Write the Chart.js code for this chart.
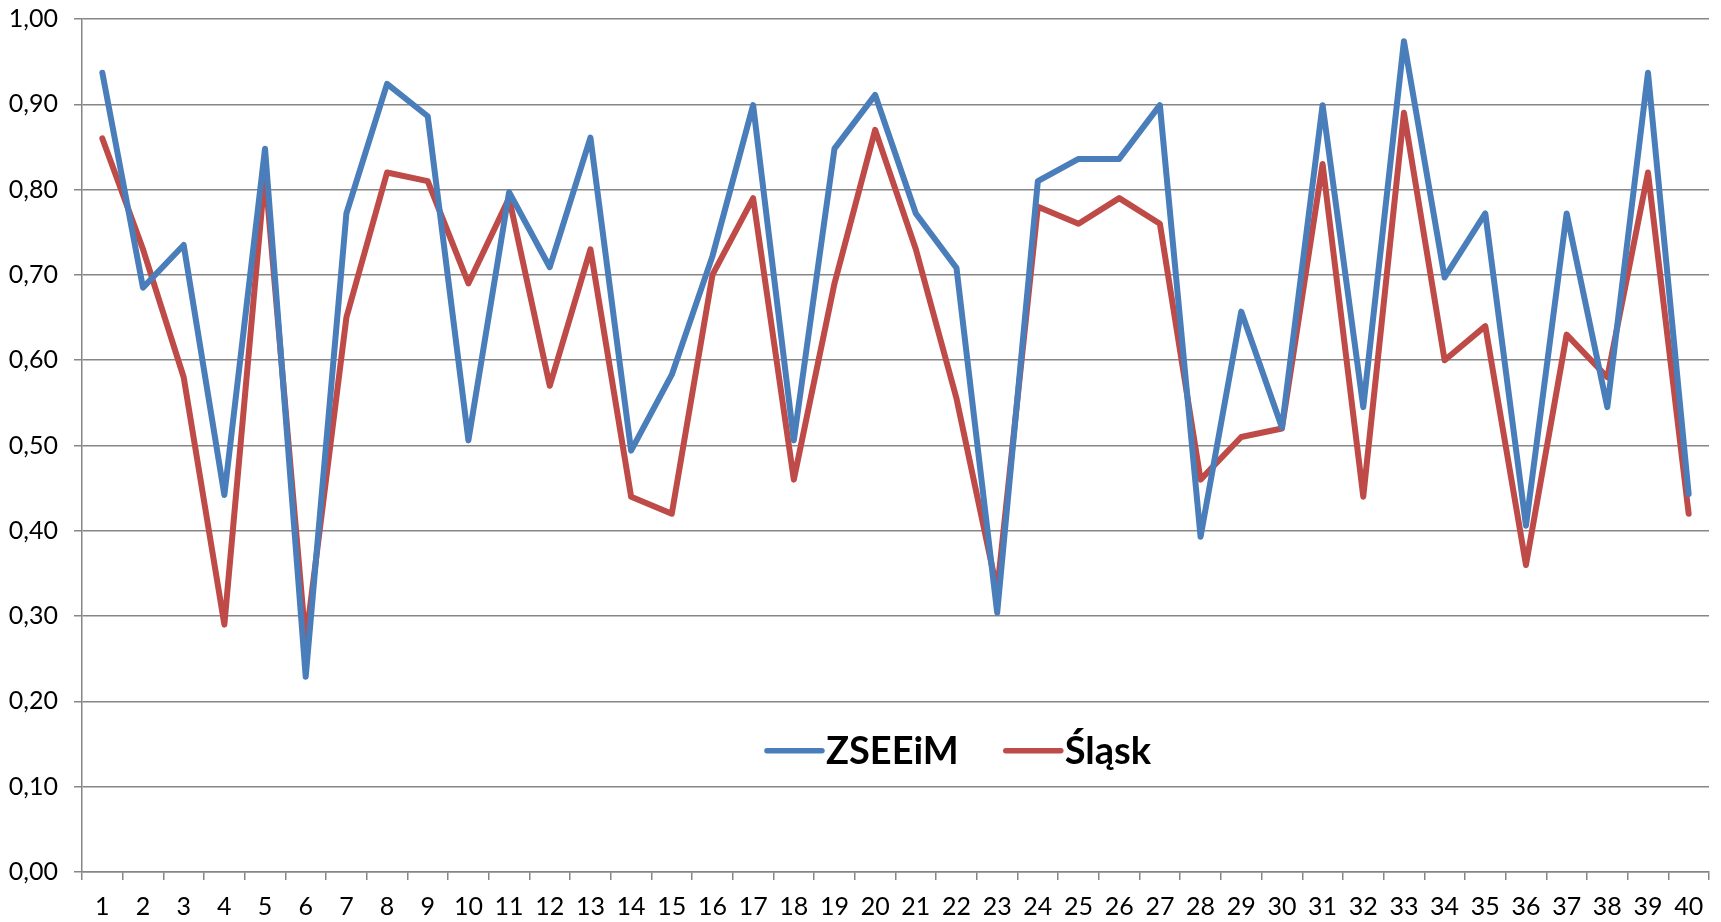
<!DOCTYPE html>
<html>
<head>
<meta charset="utf-8">
<style>
  html, body { margin: 0; padding: 0; background: #fff; }
  #wrap { width: 1721px; height: 922px; }
</style>
<script src="https://cdn.jsdelivr.net/npm/chart.js@4.4.0/dist/chart.umd.min.js"></script>
</head>
<body>
<div id="wrap"><canvas id="chart" width="1721" height="922"></canvas></div>
<script>
// ---- Data ----
const categories = Array.from({length: 40}, (_, i) => String(i + 1));
const zseeim = [0.937, 0.685, 0.735, 0.442, 0.848, 0.229, 0.772, 0.924, 0.886, 0.506,
                0.797, 0.709, 0.861, 0.494, 0.583, 0.722, 0.899, 0.506, 0.848, 0.911,
                0.772, 0.708, 0.304, 0.810, 0.836, 0.836, 0.899, 0.393, 0.657, 0.521,
                0.899, 0.545, 0.974, 0.697, 0.772, 0.406, 0.772, 0.545, 0.937, 0.443];
const slask  = [0.86, 0.73, 0.58, 0.29, 0.82, 0.27, 0.65, 0.82, 0.81, 0.69,
                0.79, 0.57, 0.73, 0.44, 0.42, 0.70, 0.79, 0.46, 0.69, 0.87,
                0.73, 0.555, 0.33, 0.78, 0.76, 0.79, 0.76, 0.46, 0.51, 0.52,
                0.83, 0.44, 0.89, 0.60, 0.64, 0.36, 0.63, 0.58, 0.82, 0.42];
const seriesNames = ['ZSEEiM', 'Śląsk'];
const seriesColors = ['#4A7EBB', '#BE4B48'];

// ---- Helpers ----
const GRID = '#868686';
const FONT = 'Lato, "Open Sans", sans-serif';
const fmtComma = (v) => Number(v).toFixed(2).replace('.', ',');

// legend drawn inside the plot, like the Excel original
const insideLegend = {
  id: 'insideLegend',
  afterDraw(chart) {
    const { ctx, chartArea: a } = chart;
    const y = a.bottom - (a.bottom - a.top) * 0.142;
    let x = a.left + (a.right - a.left) * 0.421;
    ctx.save();
    ctx.font = 'bold 38px ' + FONT;
    ctx.textBaseline = 'middle';
    seriesNames.forEach((name, i) => {
      ctx.strokeStyle = seriesColors[i];
      ctx.lineWidth = 5.5;
      ctx.lineCap = 'round';
      ctx.beginPath();
      ctx.moveTo(x, y);
      ctx.lineTo(x + 55, y);
      ctx.stroke();
      x += 59;
      ctx.fillStyle = '#000';
      ctx.fillText(name, x, y + 1);
      x += ctx.measureText(name).width + 47;
    });
    ctx.restore();
  }
};

new Chart(document.getElementById('chart'), {
  type: 'line',
  data: {
    labels: categories,
    datasets: [zseeim, slask].map((d, i) => ({
      label: seriesNames[i],
      data: d,
      borderColor: seriesColors[i],
      backgroundColor: seriesColors[i],
      borderWidth: 6,
      borderJoinStyle: 'round',
      borderCapStyle: 'round',
      pointRadius: 0,
      tension: 0
    }))
  },
  options: {
    responsive: false,
    animation: false,
    devicePixelRatio: 1,
    layout: { padding: { top: 19, right: 12, left: 0, bottom: 0 } },
    plugins: {
      legend: { display: false },
      tooltip: { enabled: false }
    },
    scales: {
      x: {
        offset: true,
        grid: { offset: true, drawOnChartArea: false, color: GRID, lineWidth: 1.5, tickLength: 8 },
        border: { color: GRID, width: 1.5 },
        ticks: { color: '#000', font: { family: FONT, size: 25 }, padding: 12, maxRotation: 0, autoSkip: false },
        afterFit: (s) => { s.height = 50; s.paddingLeft = 0; s.paddingRight = 0; }
      },
      y: {
        min: 0,
        max: 1,
        grid: { color: GRID, lineWidth: 1.5, tickLength: 8 },
        border: { color: GRID, width: 1.5 },
        ticks: { stepSize: 0.1, color: '#000', font: { family: FONT, size: 25 }, padding: 16,
                 callback: (v) => fmtComma(v) },
        afterFit: (s) => { s.width = 82; s.paddingTop = 0; s.paddingBottom = 0; }
      }
    }
  },
  plugins: [insideLegend]
});
</script>
</body>
</html>
